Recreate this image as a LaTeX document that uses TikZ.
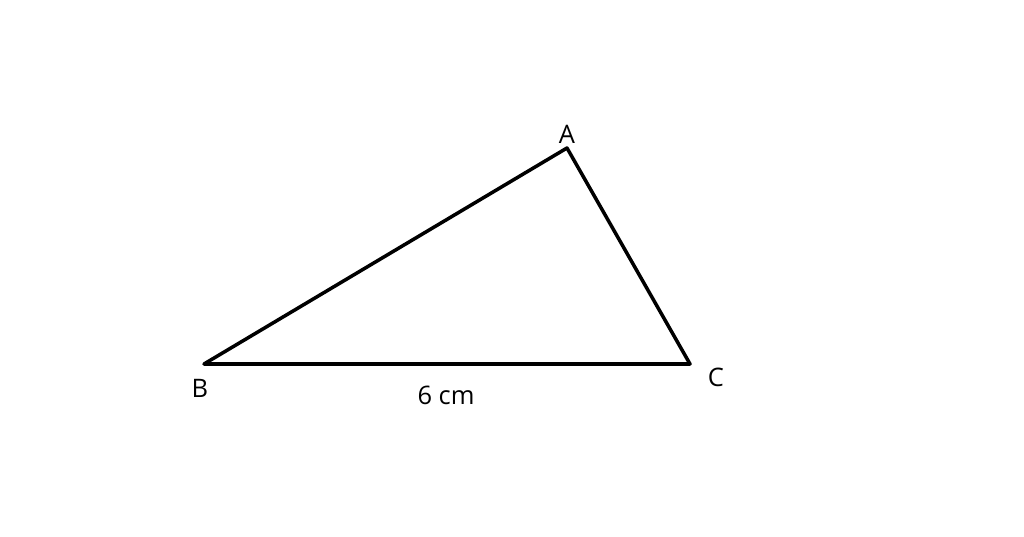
\documentclass[tikz,border=0pt]{standalone}
\usepackage{fontspec}
\setmainfont{Open Sans}
\begin{document}
\begin{tikzpicture}[x=0.02cm,y=-0.02cm,
  side/.style={line width=2pt,line join=round},
  lbl/.style={font=\fontsize{14.5}{17}\selectfont,inner sep=0pt}]
\useasboundingbox (0,0) rectangle (1024,537);
\coordinate (A) at (567,148);
\coordinate (B) at (204,364);
\coordinate (C) at (690,364);
\draw[side] (A) -- (B) -- (C) -- cycle;
\node[lbl] (la) at (567,134) {A};
\node[lbl] (lb) at (200,388) {B};
\node[lbl] (lc) at (716,377) {C};
\node[lbl] (len) at (446,395) {6 cm};
\end{tikzpicture}
\end{document}
